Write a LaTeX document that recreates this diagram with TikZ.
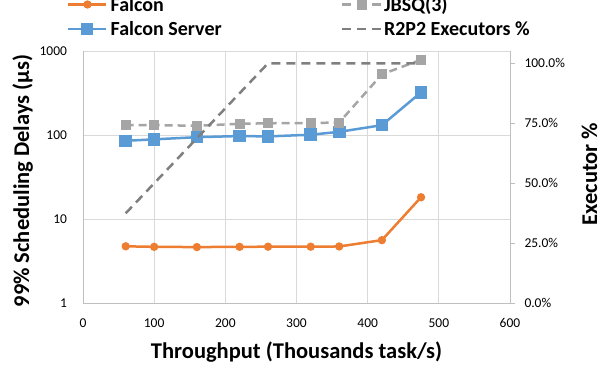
\documentclass[tikz,border=0pt]{standalone}
\usepackage{fontspec}
\setmainfont{Carlito}
\definecolor{gridc}{HTML}{D9D9D9}
\definecolor{axisc}{HTML}{BFBFBF}
\definecolor{falconc}{HTML}{ED7D31}
\definecolor{serverc}{HTML}{5B9BD5}
\definecolor{jbsqc}{HTML}{A5A5A5}
\definecolor{r2p2c}{HTML}{7F7F7F}
\begin{document}
\begin{tikzpicture}[x=1pt,y=1pt,
  declare function={px(\v)=83+0.71167*\v; ly(\v)=64.7+84*log10(\v); py(\v)=64.7+2.4*\v;},
  every node/.style={inner sep=0pt, outer sep=0pt},
  ticklab/.style={font=\fontsize{13.5}{16}\selectfont},
  axtitle/.style={font=\fontsize{22.5}{27}\selectfont\bfseries},
  legtext/.style={font=\fontsize{20}{24}\selectfont\bfseries, anchor=base west},
  gridline/.style={draw=gridc, line width=1pt},
  axisline/.style={draw=axisc, line width=1pt},
  falconline/.style={draw=falconc, line width=2.5pt, line join=round},
  serverline/.style={draw=serverc, line width=2.5pt, line join=round},
  jbsqline/.style={draw=jbsqc, line width=2.5pt, dash pattern=on 8pt off 5pt},
  r2p2line/.style={draw=r2p2c, line width=2.5pt, dash pattern=on 9pt off 6pt},
]
\useasboundingbox (0,0) rectangle (606,368);
\clip (0,0) rectangle (606,368);
% grid
\foreach \v in {100,200,300,400,500}
  \draw[gridline] ({px(\v)},{ly(1)}) -- ({px(\v)},{ly(1000)});
\foreach \v in {10,100,1000}
  \draw[gridline] ({px(0)},{ly(\v)}) -- ({px(600)},{ly(\v)});
% axes
\draw[axisline] ({px(0)},{ly(1000)}) -- ({px(0)},{ly(1)}) -- ({px(600)},{ly(1)}) -- ({px(600)},{ly(1000)});
\foreach \p in {0,25,50,75,100}
  \draw[axisline] ({px(600)},{py(\p)}) -- ({px(600)+5},{py(\p)});
% tick labels
\foreach \v in {0,100,200,300,400,500,600}
  \node[ticklab, anchor=base] (xl\v) at ({px(\v)},40.5) {\v};
\foreach \v/\n in {1/a,10/b,100/c,1000/d}
  \node[ticklab, anchor=base east] (yl\n) at (67,{ly(\v)-4.3}) {\v};
\foreach \p in {0,25,50,75,100}
  \node[ticklab, anchor=base west] (pl\p) at (524.5,{py(\p)-4.3}) {\p.0\%};
% titles
\node[axtitle, anchor=base] (xt) at (296.5,10) {Throughput (Thousands task/s)};
\node[axtitle, rotate=90, anchor=base] (yt) at (29,187) {99\% Scheduling Delays (µs)};
\node[axtitle, rotate=90, anchor=base] (rt) at (597,194) {Executor \%};
% Falcon
\draw[falconline] plot coordinates {({px(60)},{ly(4.77)}) ({px(100)},{ly(4.7)}) ({px(160)},{ly(4.67)}) ({px(220)},{ly(4.7)}) ({px(260)},{ly(4.72)}) ({px(320)},{ly(4.72)}) ({px(360)},{ly(4.75)}) ({px(420)},{ly(5.65)}) ({px(475)},{ly(18.3)})};
\foreach \x/\y in {60/4.77,100/4.7,160/4.67,220/4.7,260/4.72,320/4.72,360/4.75,420/5.65,475/18.3}
  \fill[falconc] ({px(\x)},{ly(\y)}) circle (4.2);
% Falcon Server
\draw[serverline] plot coordinates {({px(60)},{ly(86)}) ({px(100)},{ly(89.5)}) ({px(160)},{ly(95)}) ({px(220)},{ly(98)}) ({px(260)},{ly(97)}) ({px(320)},{ly(101.6)}) ({px(360)},{ly(110)}) ({px(420)},{ly(132)}) ({px(475)},{ly(325)})};
\foreach \x/\y in {60/86,100/89.5,160/95,220/98,260/97,320/101.6,360/110,420/132,475/325}
  \fill[serverc] ({px(\x)-6.3},{ly(\y)-6.3}) rectangle ++(12.6,12.6);
% JBSQ(3)
\draw[jbsqline] plot coordinates {({px(60)},{ly(132)}) ({px(100)},{ly(132)}) ({px(160)},{ly(130)}) ({px(220)},{ly(137)}) ({px(260)},{ly(139)}) ({px(320)},{ly(140)}) ({px(360)},{ly(142)}) ({px(420)},{ly(532)}) ({px(475)},{ly(794)})};
\foreach \x/\y in {60/132,100/132,160/130,220/137,260/139,320/140,360/142,420/532,475/794}
  \fill[jbsqc] ({px(\x)-5},{ly(\y)-5}) rectangle ++(10,10);
% R2P2 Executors %
\draw[r2p2line] plot coordinates {({px(60)},{py(37.5)}) ({px(100)},{py(50)}) ({px(160)},{py(68.75)}) ({px(220)},{py(87.5)}) ({px(260)},{py(100)}) ({px(320)},{py(100)}) ({px(360)},{py(100)}) ({px(420)},{py(100)}) ({px(475)},{py(100)})};
% legend
\draw[falconline] (68,363.5) -- (106,363.5);
\fill[falconc] (87.5,363.5) circle (4.2);
\node[legtext] (lf) at (110.7,357) {Falcon};
\draw[serverline] (68,339) -- (106,339);
\fill[serverc] (80.7,332.7) rectangle ++(12.6,12.6);
\node[legtext] (ls) at (110.7,333) {Falcon Server};
\draw[jbsqline, dash pattern=on 9pt off 6pt] (342,363.5) -- (381,363.5);
\fill[jbsqc] (357,358.5) rectangle ++(10,10);
\node[legtext] (lj) at (384,357) {JBSQ(3)};
\draw[r2p2line] (342,339) -- (381,339);
\node[legtext] (lr) at (384,333) {R2P2 Executors \%};
\end{tikzpicture}
\end{document}
